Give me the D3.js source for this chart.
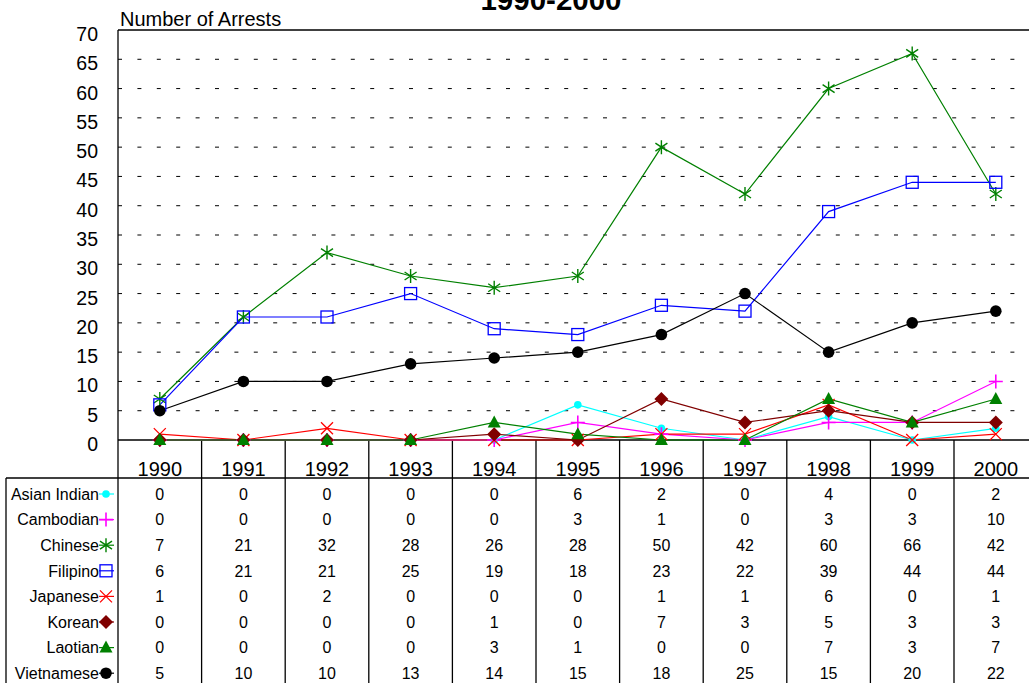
<!DOCTYPE html>
<html>
<head>
<meta charset="utf-8">
<script src="https://cdn.jsdelivr.net/npm/d3@7"></script>
<style>
  body { margin: 0; background: #fff; }
  svg { display: block; font-family: "Liberation Sans", Arial, sans-serif; }
</style>
</head>
<body>
<svg id="chart" width="1029" height="683"></svg>
<script>
// data
const years = ["1990","1991","1992","1993","1994","1995","1996","1997","1998","1999","2000"];
const groups = ["Asian Indian","Cambodian","Chinese","Filipino","Japanese","Korean","Laotian","Vietnamese"];
const asianIndian = [0,0,0,0,0,6,2,0,4,0,2];
const cambodian   = [0,0,0,0,0,3,1,0,3,3,10];
const chinese     = [7,21,32,28,26,28,50,42,60,66,42];
const filipino    = [6,21,21,25,19,18,23,22,39,44,44];
const japanese    = [1,0,2,0,0,0,1,1,6,0,1];
const korean      = [0,0,0,0,1,0,7,3,5,3,3];
const laotian     = [0,0,0,0,3,1,0,0,7,3,7];
const vietnamese  = [5,10,10,13,14,15,18,25,15,20,22];
const yTicks = [0,5,10,15,20,25,30,35,40,45,50,55,60,65,70];

const seriesValues = [asianIndian, cambodian, chinese, filipino, japanese, korean, laotian, vietnamese];
const colors = ["#00ffff", "#ff00ff", "#008000", "#0000ff", "#ff0000", "#800000", "#008000", "#000000"];
const shapes = ["dot", "plus", "star", "square", "cross", "diamond", "triangle", "circle"];

const series = groups.map((g, i) => ({name: g, values: seriesValues[i], color: colors[i], shape: shapes[i]}));

const svg = d3.select("#chart");
const W = 1029, H = 683;
const plotLeft = 118, plotTop = 30, plotBottom = 440;
const colW = 83.6;

const x = d3.scaleBand().domain(years).range([plotLeft, plotLeft + colW * years.length]).padding(0);
const cx = yr => x(yr) + x.bandwidth() / 2;
const y = d3.scaleLinear().domain([0, 70]).range([plotBottom, plotTop]);

// title (its top is cut off by the page edge, as in the original)
svg.append("text")
  .attr("x", 551).attr("y", 10)
  .attr("text-anchor", "middle")
  .style("font-size", "29.5px").style("font-weight", "bold")
  .text("1990-2000");

svg.append("text")
  .attr("x", 120).attr("y", 26)
  .style("font-size", "20px")
  .text("Number of Arrests");

// dashed gridlines
svg.append("g")
  .selectAll("line")
  .data(yTicks.filter(t => t > 0 && t < 70))
  .join("line")
    .attr("x1", plotLeft).attr("x2", W)
    .attr("y1", d => y(d)).attr("y2", d => y(d))
    .attr("stroke", "#000")
    .attr("stroke-width", 1)
    .attr("stroke-dasharray", "4,15.4");

// y tick labels (sit a few px below their gridline in the original)
svg.append("g")
  .selectAll("text")
  .data(yTicks)
  .join("text")
    .attr("x", 98)
    .attr("y", d => y(d) + 4)
    .attr("dy", "0.36em")
    .attr("text-anchor", "end")
    .style("font-size", "19.5px")
    .text(d => d);

// frame
const frame = svg.append("g").attr("stroke", "#000").attr("stroke-width", 1.3);
frame.append("line").attr("x1", plotLeft).attr("x2", W).attr("y1", plotTop).attr("y2", plotTop);
frame.append("line").attr("x1", plotLeft).attr("x2", W).attr("y1", plotBottom).attr("y2", plotBottom);
frame.append("line").attr("x1", 6).attr("x2", W).attr("y1", 478).attr("y2", 478);
frame.append("line").attr("x1", 6).attr("x2", 6).attr("y1", 478).attr("y2", H);
frame.append("line").attr("x1", plotLeft).attr("x2", plotLeft).attr("y1", plotTop).attr("y2", H);
frame.selectAll(".vsep")
  .data(years.slice(1).concat(["end"]))
  .join("line")
    .attr("class", "vsep")
    .attr("x1", (d, i) => plotLeft + colW * (i + 1))
    .attr("x2", (d, i) => plotLeft + colW * (i + 1))
    .attr("y1", plotBottom).attr("y2", H);

// year labels
svg.append("g")
  .selectAll("text")
  .data(years)
  .join("text")
    .attr("x", d => cx(d))
    .attr("y", 476)
    .attr("text-anchor", "middle")
    .style("font-size", "20px")
    .text(d => d);

// marker drawing
function drawMarker(g, shape, color, px, py) {
  if (shape === "dot") {
    g.append("circle").attr("cx", px).attr("cy", py).attr("r", 3.8).attr("fill", color);
  } else if (shape === "circle") {
    g.append("circle").attr("cx", px).attr("cy", py).attr("r", 5.8).attr("fill", color);
  } else if (shape === "plus") {
    g.append("path").attr("d", `M${px-7},${py}H${px+7}M${px},${py-7}V${py+7}`)
      .attr("stroke", color).attr("stroke-width", 1.6).attr("fill", "none");
  } else if (shape === "cross") {
    g.append("path").attr("d", `M${px-6},${py-6}L${px+6},${py+6}M${px-6},${py+6}L${px+6},${py-6}`)
      .attr("stroke", color).attr("stroke-width", 1.3).attr("fill", "none");
  } else if (shape === "star") {
    g.append("path").attr("d", `M${px},${py-7}V${py+7}M${px-6},${py-4}L${px+6},${py+4}M${px-6},${py+4}L${px+6},${py-4}`)
      .attr("stroke", color).attr("stroke-width", 1.4).attr("fill", "none");
  } else if (shape === "square") {
    g.append("rect").attr("x", px-6).attr("y", py-6).attr("width", 12).attr("height", 12)
      .attr("stroke", color).attr("stroke-width", 1.3).attr("fill", "none");
  } else if (shape === "diamond") {
    g.append("path").attr("d", `M${px},${py-7}L${px+7},${py}L${px},${py+7}L${px-7},${py}Z`).attr("fill", color);
  } else if (shape === "triangle") {
    g.append("path").attr("d", `M${px},${py-7}L${px+6.5},${py+5}L${px-6.5},${py+5}Z`).attr("fill", color);
  }
}

// lines
const line = d3.line().x((d, i) => cx(years[i])).y(d => y(d));
svg.append("g")
  .selectAll("path")
  .data(series)
  .join("path")
    .attr("d", d => line(d.values))
    .attr("fill", "none")
    .attr("stroke", d => d.color)
    .attr("stroke-width", 1.2);

// markers
const markers = svg.append("g");
series.forEach(s => {
  s.values.forEach((v, i) => drawMarker(markers, s.shape, s.color, cx(years[i]), y(v)));
});

// data table
const rowY = i => 494 + i * 25.6;
const table = svg.append("g").style("font-size", "16px");
series.forEach((s, r) => {
  const ry = rowY(r);
  table.append("text")
    .attr("x", 99).attr("y", ry).attr("dy", "0.36em")
    .attr("text-anchor", "end")
    .text(s.name);
  table.append("line")
    .attr("x1", 99).attr("x2", 114).attr("y1", ry).attr("y2", ry)
    .attr("stroke", s.color).attr("stroke-width", 1.2);
  drawMarker(table, s.shape, s.color, 106, ry);
  s.values.forEach((v, i) => {
    table.append("text")
      .attr("x", cx(years[i])).attr("y", ry).attr("dy", "0.36em")
      .attr("text-anchor", "middle")
      .text(v);
  });
});
</script>
</body>
</html>
